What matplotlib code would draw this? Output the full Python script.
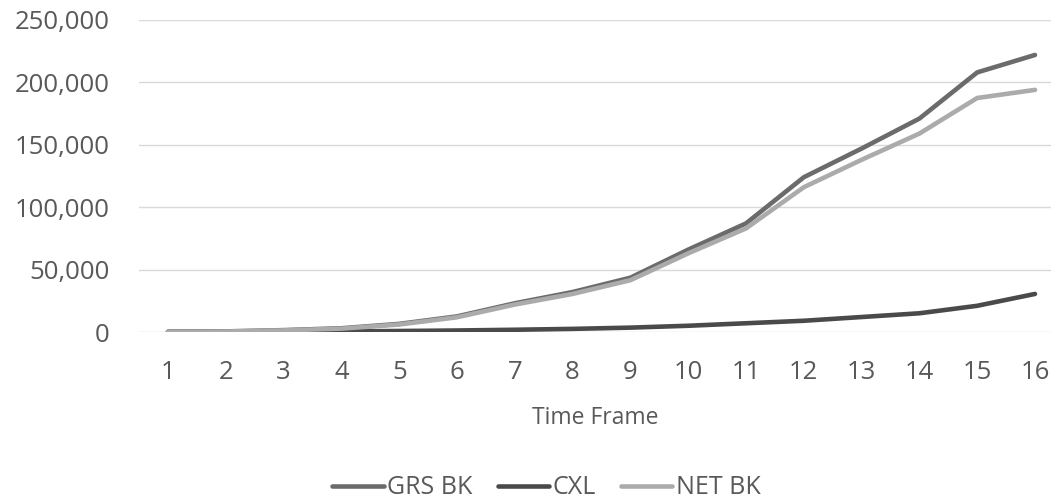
import matplotlib
matplotlib.use("Agg")
import matplotlib.pyplot as plt
from matplotlib.ticker import FuncFormatter

frames = list(range(1, 17))
grs_bk = [200, 500, 1500, 3000, 6500, 12500, 23000, 32000, 43500, 66000, 87000, 124000, 147000, 171000, 208000, 222000]
cxl = [100, 200, 300, 500, 800, 1200, 1800, 2500, 3500, 5000, 7000, 9000, 12000, 15000, 21000, 30500]
net_bk = [150, 400, 1300, 2700, 6000, 11800, 22000, 30500, 41500, 63000, 83000, 116000, 138000, 159000, 187500, 194000]
yticks = [0, 50000, 100000, 150000, 200000, 250000]

plt.rcParams['font.family'] = ['Open Sans', 'DejaVu Sans']
txt = '#595959'

fig = plt.figure(figsize=(10.51, 5.04), dpi=100)
ax = fig.add_axes([139/1051, (504-332)/504, (1051-139)/1051, (332-20)/504])

ax.plot(frames, grs_bk, color='#6b6b6b', lw=3.3, label='GRS BK', solid_capstyle='round')
ax.plot(frames, cxl, color='#4a4a4a', lw=3.3, label='CXL', solid_capstyle='round')
ax.plot(frames, net_bk, color='#ababab', lw=3.3, label='NET BK', solid_capstyle='round')

ax.set_ylim(0, 250000)
ax.set_xlim(1 - 29/57.8, 16 + 16/57.8)
ax.set_yticks(yticks)
ax.yaxis.set_major_formatter(FuncFormatter(lambda v, p: f'{int(v):,}'))
ax.set_xticks(frames)
ax.grid(axis='y', color='#d9d9d9', lw=1)
ax.set_axisbelow(True)
for s in ax.spines.values():
    s.set_visible(False)
ax.tick_params(length=0, labelsize=18.5, colors=txt)
ax.tick_params(axis='x', pad=20)
ax.tick_params(axis='y', pad=21)
ax.set_xlabel('Time Frame', fontsize=16.5, color=txt, labelpad=15)

leg = fig.legend(loc='center', bbox_to_anchor=(0.52, 1 - 488/504), ncol=3, frameon=False,
                 fontsize=18, handlelength=2.05, handletextpad=0.15, columnspacing=1.0)
for t in leg.get_texts():
    t.set_color(txt)

fig.savefig('out.png', dpi=100)
